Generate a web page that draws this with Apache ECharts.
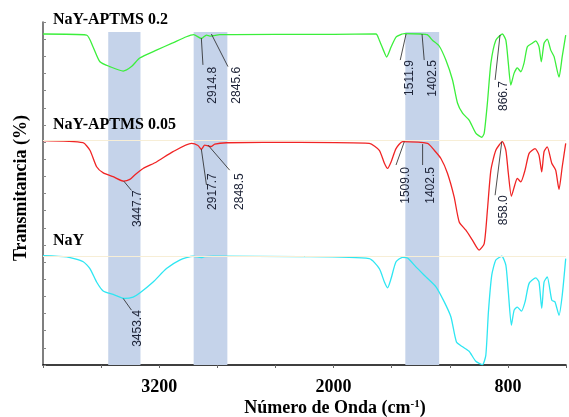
<!DOCTYPE html>
<html>
<head>
<meta charset="utf-8">
<script src="https://cdn.jsdelivr.net/npm/echarts@6/dist/echarts.min.js"></script>
<style>
    html, body { margin: 0; padding: 0; background: #fff; }
    #chart { width: 569px; height: 417px; }
</style>
</head>
<body>
<div id="chart"></div>
<script>
// espectros FTIR: [numero de onda, transmitancia desplazada]
var green = [[4000,96.5],[3700,96.2],[3656,92.8],[3608,88.4],[3540,87.0],[3448,85.7],[3391,87.0],[3334,89.5],[3219,91.8],[3107,93.9],[3013,95.7],[2963,96.3],[2910,95.2],[2875,96.2],[2846,95.9],[2784,96.3],[2400,96.4],[2000,96.4],[1708,96.5],[1685,94.7],[1657,91.8],[1635,89.8],[1604,92.7],[1570,95.6],[1527,96.5],[1512,96.6],[1398,96.5],[1355,96.3],[1319,94.7],[1273,93.0],[1227,88.9],[1181,83.1],[1147,76.4],[1112,73.4],[1067,71.4],[1021,67.6],[979,66.4],[963,67.6],[941,76.4],[917,88.0],[883,94.7],[838,96.5],[814,94.7],[797,88.0],[780,81.6],[757,85.1],[735,86.6],[711,85.5],[689,88.0],[666,92.8],[632,93.8],[608,94.5],[586,92.8],[570,88.4],[551,93.8],[529,95.0],[505,91.8],[482,89.9],[448,83.9],[426,89.9],[402,96.2]];
var red = [[4000,65.4],[3725,64.8],[3677,62.6],[3631,57.8],[3585,56.0],[3517,54.9],[3444,53.6],[3402,54.1],[3368,55.4],[3311,57.3],[3219,59.2],[3105,62.2],[2978,64.6],[2933,64.0],[2910,62.9],[2887,64.1],[2864,63.9],[2841,63.7],[2818,64.4],[2738,64.8],[2234,64.9],[1754,64.6],[1685,62.6],[1650,58.8],[1628,57.3],[1604,59.2],[1570,63.1],[1525,65.1],[1353,64.6],[1307,62.6],[1261,60.2],[1216,55.9],[1170,49.0],[1135,41.7],[1089,39.3],[1044,36.4],[998,33.5],[963,35.4],[941,45.1],[917,56.8],[883,62.6],[838,65.1],[814,62.6],[797,55.9],[776,49.2],[753,52.4],[735,54.4],[711,53.4],[682,56.8],[654,61.7],[613,63.1],[586,61.2],[567,56.3],[551,62.2],[529,63.6],[498,58.8],[471,56.8],[448,51.2],[426,57.8],[402,64.6]];
var cyan = [[4000,31.9],[3837,31.5],[3723,30.1],[3677,28.1],[3631,24.2],[3586,21.6],[3517,20.6],[3437,19.4],[3380,19.8],[3334,21.0],[3242,24.2],[3150,28.1],[3059,30.6],[2967,31.7],[2910,31.3],[2887,31.6],[2830,31.7],[2234,31.6],[1754,31.0],[1685,28.1],[1650,24.2],[1628,22.5],[1604,25.2],[1570,30.1],[1525,31.4],[1490,31.2],[1433,28.6],[1364,25.7],[1295,22.8],[1238,18.4],[1192,14.0],[1154,6.7],[1112,5.3],[1067,4.0],[1021,1.1],[975,0.1],[952,2.8],[934,15.5],[911,26.2],[883,30.6],[842,31.7],[814,29.1],[797,21.3],[776,11.6],[757,16.0],[735,16.9],[707,15.7],[682,18.4],[654,23.8],[608,25.4],[586,24.2],[567,16.5],[551,24.2],[529,25.7],[498,18.9],[476,18.4],[448,14.5],[426,20.3],[402,31.0]];

var bands = [[3551, 3329], [2963, 2731], [1506, 1273]];
var bandTop = 97.1;
var baselines = [65.5, 31.8];
var tickLabels = [3200, 2000, 800];
var sampleNames = ['NaY-APTMS 0.2', 'NaY-APTMS 0.05', 'NaY'];

// [texto, punto en la curva, fin de la linea, extremo del texto]
var peaks = [
    ['2914.8', [2910, 95.3], [2899, 87.5], [2830, 86.9]],
    ['2845.6', [2841, 96.5], [2727, 87.0], [2669, 86.9]],
    ['1511.9', [1501, 96.5], [1541, 88.9], [1479, 88.9]],
    ['1402.5', [1391, 96.5], [1376, 88.9], [1319, 88.9]],
    ['866.7', [854, 96.2], [888, 83.1], [826, 82.8]],
    ['3447.7', [3444, 53.6], [3391, 50.9], [3345, 50.9]],
    ['2917.7', [2910, 62.9], [2875, 52.5], [2830, 55.9]],
    ['2848.5', [2864, 64.1], [2715, 56.8], [2647, 55.9]],
    ['1509.0', [1513, 65.1], [1570, 58.3], [1501, 57.7]],
    ['1402.5', [1387, 64.4], [1387, 58.3], [1330, 57.7]],
    ['858.0', [842, 65.1], [888, 49.5], [826, 49.5]],
    ['3453.4', [3448, 19.4], [3391, 16.0], [3345, 16.0]]
];

var myChart = echarts.init(document.getElementById('chart'));
var serif = '"Liberation Serif", "Times New Roman", serif';

var option = {
    animation: false,
    grid: { left: 43, right: 2, top: 22, bottom: 52 },
    xAxis: {
        type: 'value',
        min: 400,
        max: 4000,
        interval: 400,
        inverse: true,
        axisLine: { lineStyle: { color: '#000', width: 1.5 } },
        axisTick: { length: 3, lineStyle: { color: '#666' } },
        axisLabel: {
            margin: 13,
            color: '#000',
            fontFamily: serif,
            fontWeight: 'bold',
            fontSize: 18,
            formatter: function (v) { return tickLabels.indexOf(v) >= 0 ? String(v) : ''; }
        },
        splitLine: { show: false }
    },
    yAxis: {
        type: 'value',
        min: 0,
        max: 100,
        interval: 5,
        axisLine: { show: true, lineStyle: { color: '#555', width: 1.5 } },
        axisTick: { show: true, inside: true, length: 3, lineStyle: { color: '#888' } },
        axisLabel: { show: false },
        splitLine: { show: false }
    },
    series: [
        {
            type: 'line',
            data: [],
            z: 1,
            silent: true,
            markArea: {
                silent: true,
                itemStyle: { color: '#c5d3ea' },
                data: bands.map(function (b) {
                    return [{ xAxis: b[0], yAxis: 0 }, { xAxis: b[1], yAxis: bandTop }];
                })
            },
            markLine: {
                silent: true,
                symbol: 'none',
                label: { show: false },
                lineStyle: { color: '#f7eed6', width: 1, type: 'solid' },
                data: baselines.map(function (v) { return { yAxis: v }; })
            }
        },
        {
            name: sampleNames[0], type: 'line', data: green, showSymbol: false, smooth: 0.2, z: 3,
            lineStyle: { color: '#3bef3b', width: 1.3 }, itemStyle: { color: '#3bef3b' }
        },
        {
            name: sampleNames[1], type: 'line', data: red, showSymbol: false, smooth: 0.2, z: 3,
            lineStyle: { color: '#f02424', width: 1.3 }, itemStyle: { color: '#f02424' }
        },
        {
            name: sampleNames[2], type: 'line', data: cyan, showSymbol: false, smooth: 0.2, z: 3,
            lineStyle: { color: '#2ee6f2', width: 1.3 }, itemStyle: { color: '#2ee6f2' }
        }
    ]
};
myChart.setOption(option);

// textos y anotaciones de picos
var els = [];
var titleY = [19.5, 124.5, 241];
sampleNames.forEach(function (name, i) {
    els.push({
        type: 'text', x: 53, y: titleY[i], z: 20,
        style: { text: name, fill: '#000', font: 'bold 16px ' + serif, align: 'left', verticalAlign: 'middle' }
    });
});
els.push({
    type: 'text', x: 21, y: 188, rotation: Math.PI / 2, z: 20,
    style: { text: 'Transmitancia (%)', fill: '#000', font: 'bold 18px ' + serif, align: 'center', verticalAlign: 'middle' }
});
els.push({
    type: 'text', x: 335, y: 408, z: 20,
    style: {
        text: '{a|Número de Onda (cm}{s|-1}{a|)}',
        align: 'center', verticalAlign: 'middle',
        rich: {
            a: { font: 'bold 18px ' + serif, fill: '#000', lineHeight: 18 },
            s: { font: 'bold 11px ' + serif, fill: '#000', verticalAlign: 'top', lineHeight: 18 }
        }
    }
});
peaks.forEach(function (p) {
    var a = myChart.convertToPixel({ gridIndex: 0 }, p[1]);
    var b = myChart.convertToPixel({ gridIndex: 0 }, p[2]);
    var t = myChart.convertToPixel({ gridIndex: 0 }, p[3]);
    els.push({
        type: 'line', z: 15,
        shape: { x1: a[0], y1: a[1], x2: b[0], y2: b[1] },
        style: { stroke: '#222', lineWidth: 0.8 }
    });
    els.push({
        type: 'text', x: t[0], y: t[1], rotation: Math.PI / 2, z: 15,
        style: { text: p[0], fill: '#1c2236', font: '12px "Liberation Sans", Arial, sans-serif', align: 'right', verticalAlign: 'middle' }
    });
});
myChart.setOption({ graphic: els });
</script>
</body>
</html>
